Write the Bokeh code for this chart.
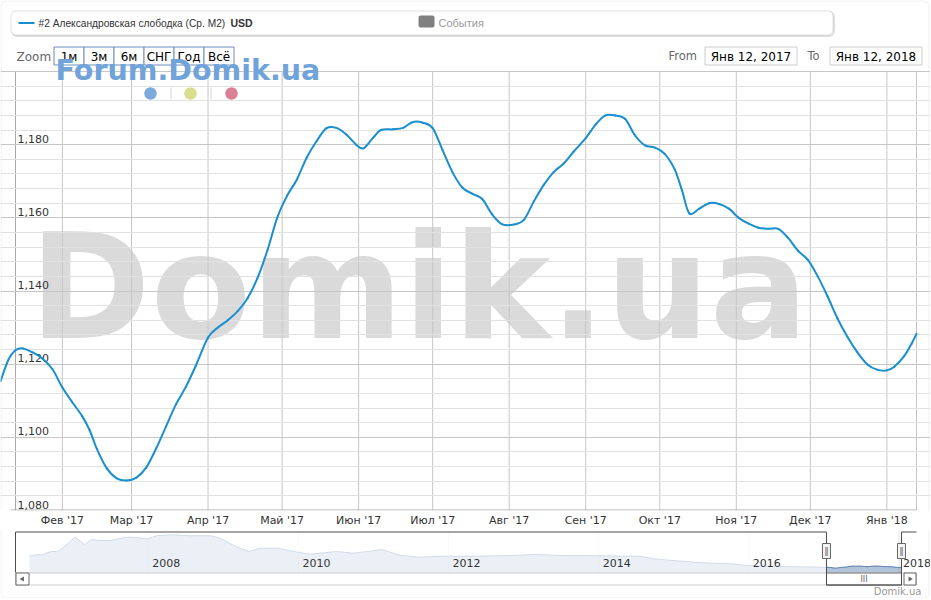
import numpy as np
import pandas as pd
from bokeh.plotting import figure
from bokeh.layouts import column
from bokeh.models import Range1d, FixedTicker, BoxAnnotation
from bokeh.core.properties import value
from bokeh.embed import file_html
from bokeh.resources import INLINE

# ---------------- data ----------------
SERIES_NAME = "#2 Александровская слободка (Ср. М2)"
SERIES_UNIT = "USD"
EVENTS_NAME = "События"
SITE = "Domik.ua"
FORUM = "Forum.Domik.ua"

dates = ["2017-01-07", "2017-01-10", "2017-01-13", "2017-01-16", "2017-01-20", "2017-01-24",
         "2017-01-28", "2017-02-01", "2017-02-05", "2017-02-09", "2017-02-12", "2017-02-15",
         "2017-02-19", "2017-02-23", "2017-02-27", "2017-03-03", "2017-03-07", "2017-03-11",
         "2017-03-15", "2017-03-19", "2017-03-23", "2017-03-27", "2017-04-01", "2017-04-05",
         "2017-04-09", "2017-04-13", "2017-04-17", "2017-04-21", "2017-04-25", "2017-04-29",
         "2017-05-03", "2017-05-07", "2017-05-11", "2017-05-15", "2017-05-19", "2017-05-23",
         "2017-05-27", "2017-05-31", "2017-06-03", "2017-06-07", "2017-06-10", "2017-06-15",
         "2017-06-19", "2017-06-23", "2017-06-27", "2017-07-01", "2017-07-05", "2017-07-09",
         "2017-07-13", "2017-07-17", "2017-07-21", "2017-07-25", "2017-07-29", "2017-08-03",
         "2017-08-07", "2017-08-11", "2017-08-15", "2017-08-19", "2017-08-23", "2017-08-27",
         "2017-09-01", "2017-09-05", "2017-09-09", "2017-09-13", "2017-09-17", "2017-09-21",
         "2017-09-25", "2017-09-29", "2017-10-03", "2017-10-07", "2017-10-10", "2017-10-13",
         "2017-10-17", "2017-10-21", "2017-10-25", "2017-10-29", "2017-11-02", "2017-11-06",
         "2017-11-10", "2017-11-14", "2017-11-18", "2017-11-22", "2017-11-26", "2017-11-30",
         "2017-12-04", "2017-12-08", "2017-12-12", "2017-12-16", "2017-12-20", "2017-12-24",
         "2017-12-28", "2018-01-01", "2018-01-04", "2018-01-08", "2018-01-11", "2018-01-13"]
prices = [1115.4, 1121.0, 1123.8, 1124.3, 1123.2, 1121.5,
          1118.6, 1113.6, 1109.6, 1105.8, 1102.0, 1096.8,
          1091.5, 1088.8, 1088.2, 1089.0, 1091.8, 1097.0,
          1103.0, 1109.0, 1113.8, 1119.5, 1127.3, 1130.0,
          1132.0, 1134.5, 1138.0, 1143.5, 1151.0, 1160.0,
          1166.0, 1170.5, 1176.5, 1181.0, 1184.5, 1184.6,
          1182.8, 1180.0, 1179.0, 1182.0, 1184.0, 1184.2,
          1184.6, 1186.2, 1186.0, 1184.5, 1178.5, 1172.5,
          1168.3, 1166.6, 1165.2, 1161.0, 1158.3, 1158.2,
          1159.5, 1164.5, 1169.0, 1172.5, 1174.8, 1178.0,
          1181.8, 1185.5, 1188.0, 1188.0, 1187.0, 1182.5,
          1179.8, 1179.2, 1177.5, 1173.3, 1167.5, 1161.2,
          1162.5, 1164.0, 1163.8, 1162.5, 1160.0, 1158.4,
          1157.3, 1157.0, 1157.0, 1154.5, 1151.0, 1148.5,
          1144.0, 1138.5, 1132.5, 1127.5, 1123.3, 1120.0,
          1118.5, 1118.3, 1119.3, 1122.2, 1125.6, 1128.3]

month_ticks = ["2017-02-01", "2017-03-01", "2017-04-01", "2017-05-01", "2017-06-01", "2017-07-01",
               "2017-08-01", "2017-09-01", "2017-10-01", "2017-11-01", "2017-12-01", "2018-01-01"]
month_labels = ["Фев '17", "Мар '17", "Апр '17", "Май '17", "Июн '17", "Июл '17",
                "Авг '17", "Сен '17", "Окт '17", "Ноя '17", "Дек '17", "Янв '18"]

y_ticks = [1080, 1100, 1120, 1140, 1160, 1180, 1200]
y_labels = ["1,080", "1,100", "1,120", "1,140", "1,160", "1,180"]
y_minor = [v for v in range(1080, 1201, 4) if v % 20]

view_from, view_to = "2017-01-13", "2018-01-13"
from_text, to_text = "Янв 12, 2017", "Янв 12, 2018"
zoom_buttons = ["1м", "3м", "6м", "СНГ", "Год", "Всё"]

hist_dates = ["2006-06-01", "2006-07-01", "2006-08-01", "2006-09-15", "2006-10-15", "2006-11-01",
              "2007-01-10", "2007-02-25", "2007-04-01", "2007-05-05", "2007-07-01", "2007-09-12",
              "2007-11-01", "2007-12-28", "2008-02-15", "2008-05-05", "2008-07-25", "2008-11-01",
              "2008-12-15", "2009-03-08", "2009-05-05", "2009-06-28", "2009-09-20", "2009-12-25",
              "2010-03-01", "2010-07-05", "2010-09-28", "2010-12-15", "2011-02-10", "2011-05-12",
              "2011-08-15", "2011-12-05", "2012-05-20", "2012-10-28", "2013-03-08", "2013-06-28",
              "2013-11-02", "2014-04-15", "2014-07-20", "2014-09-25", "2014-12-28", "2015-05-22",
              "2015-10-01", "2015-12-28", "2016-04-12", "2016-08-05", "2016-11-25"]
hist_values = [1680, 1750, 1750, 1915, 1915, 2015,
               2630, 2265, 2515, 2465, 2465, 2630,
               2615, 2550, 2715, 2750, 2700, 2700,
               2580, 2130, 1915, 2080, 2080, 1880,
               1780, 1915, 1830, 1930, 2015, 1715,
               1630, 1680, 1680, 1715, 1765, 1715,
               1715, 1680, 1680, 1550, 1465, 1350,
               1300, 1215, 1180, 1150, 1140]

nav_from, nav_to = "2006-03-26", "2018-03-27"
year_ticks = ["2008-01-01", "2010-01-01", "2012-01-01", "2014-01-01", "2016-01-01", "2018-01-01"]
year_labels = ["2008", "2010", "2012", "2014", "2016", "2018"]

# ---------------- styling ----------------
W = 930
LINE = "#1a8fcf"
GRID = "#c6c6c6"
MINOR = "#e2e2e2"
AXIS = "#a8a8a8"
BORDER = "#c8c8c8"
DJ = value("DejaVu Sans")
LB = value("Liberation Sans")
PX = dict(x_range_name="px", y_range_name="px")


def ms(d):
    return int(pd.Timestamp(d).value // 10**6)


common = dict(output_backend="svg", toolbar_location=None, outline_line_color=None,
              background_fill_color="white", border_fill_color="white")

# ---------------- main chart (frame also hosts the header) ----------------
x0, x1 = ms(view_from), ms(view_to)
per_px = (x1 - x0) / 901.0           # axis spans pixels 15..916
y_top = 1200 + 71 * 120 / 439.0      # 1080..1200 spans pixels 510..71
main = figure(width=W, height=530, x_axis_type="datetime", y_axis_location=None,
              x_range=Range1d(x0 - 15 * per_px, x1 + 14 * per_px),
              y_range=Range1d(1080, y_top),
              min_border_left=0, min_border_right=0, min_border_top=0, min_border_bottom=20,
              **common)
main.extra_x_ranges = {"px": Range1d(0, W)}
main.extra_y_ranges = {"px": Range1d(510, 0)}

tick_ms = [ms(t) for t in month_ticks]
ax = main.xaxis[0]
ax.ticker = FixedTicker(ticks=tick_ms)
ax.major_label_overrides = {t: l for t, l in zip(tick_ms, month_labels)}
ax.major_tick_out = 0
ax.major_tick_in = 0
ax.minor_tick_out = 0
ax.minor_tick_in = 0
ax.axis_line_color = None
ax.major_label_text_font = "DejaVu Sans"
ax.major_label_text_font_size = "11px"
ax.major_label_text_color = "#333333"
ax.major_label_standoff = 3

main.xgrid.visible = False
main.ygrid.ticker = FixedTicker(ticks=y_ticks, minor_ticks=y_minor)
main.ygrid.grid_line_color = GRID
main.ygrid.minor_grid_line_color = MINOR

# watermark beneath the grid
main.text(x=[29], y=[286], text=[SITE], level="image", text_font=DJ, text_font_style="bold",
          text_font_size="146px", text_color="#dadada", text_baseline="middle", **PX)

# trim horizontal grid to the plot area
main.quad(left=[0, 916], right=[10, W], top=[70, 70], bottom=[511, 511], fill_color="white",
          line_color=None, level="underlay", **PX)
# vertical grid lines and axis lines
main.segment(x0=tick_ms, x1=tick_ms, y0=[1080] * len(tick_ms), y1=[1200] * len(tick_ms),
             line_color=GRID, level="underlay")
main.segment(x0=[x1], x1=[x1], y0=[1080], y1=[1200], line_color=GRID, level="underlay")
main.segment(x0=[x0], x1=[x0], y0=[1080], y1=[1200], line_color=AXIS, level="underlay")
main.segment(x0=[10], x1=[916], y0=[509.5], y1=[509.5], line_color=AXIS, level="underlay", **PX)

main.text(x=[x0] * len(y_labels), y=y_ticks[:len(y_labels)], text=y_labels, x_offset=2,
          y_offset=-6, text_font=DJ, text_font_size="11px", text_color="#333333",
          text_baseline="middle")

# spline through the read points (drawn as cubic Bezier pieces, like a Highcharts spline)
px_ = np.array([ms(d) for d in dates], dtype=float)
py_ = np.array(prices, dtype=float)
pxe = np.concatenate([[px_[0]], px_, [px_[-1]]])
pye = np.concatenate([[py_[0]], py_, [py_[-1]]])
main.bezier(x0=px_[:-1], y0=py_[:-1], x1=px_[1:], y1=py_[1:],
            cx0=px_[:-1] + (pxe[2:-1] - pxe[:-3]) / 6.0,
            cy0=py_[:-1] + (pye[2:-1] - pye[:-3]) / 6.0,
            cx1=px_[1:] - (pxe[3:] - pxe[1:-2]) / 6.0,
            cy1=py_[1:] - (pye[3:] - pye[1:-2]) / 6.0,
            line_color=LINE, line_width=2, line_cap="round")

# ---- header: legend ----
main.add_layout(BoxAnnotation(left=11.5, right=833.5, top=11.5, bottom=35.5, fill_color=None,
                              line_color="black", line_alpha=0.12, line_width=2,
                              border_radius=5, level="underlay", **PX))
main.add_layout(BoxAnnotation(left=10.5, right=832.5, top=10.5, bottom=34.5, fill_color="white",
                              fill_alpha=1, line_color="#9a9a9a", line_width=1,
                              border_radius=5, level="underlay", **PX))
main.add_layout(BoxAnnotation(left=418, right=434, top=15, bottom=27, fill_color="#808080",
                              fill_alpha=1, line_color=None, border_radius=2,
                              level="underlay", **PX))
main.segment(x0=[18], x1=[34], y0=[22.5], y1=[22.5], line_color=LINE, line_width=2, **PX)
main.text(x=[38], y=[22.5], text=[SERIES_NAME], text_font=LB, text_font_size="10.2px",
          text_color="#333333", text_baseline="middle", **PX)
main.text(x=[230], y=[22.5], text=[SERIES_UNIT], text_font=LB, text_font_size="10.5px",
          text_font_style="bold", text_color="#333333", text_baseline="middle", **PX)
main.text(x=[438], y=[22.5], text=[EVENTS_NAME], text_font=LB, text_font_size="11px",
          text_color="#999999", text_baseline="middle", **PX)

# ---- header: range selector ----
main.text(x=[16], y=[56], text=["Zoom"], text_font=DJ, text_font_size="12px",
          text_color="#666666", text_baseline="middle", **PX)
bl = [53.5 + 30 * i for i in range(len(zoom_buttons))]
main.quad(left=bl, right=[b + 30 for b in bl], top=46.5, bottom=64.5,
          fill_color="white", line_color="#6f8fbb", line_width=1, **PX)
main.text(x=[b + 15 for b in bl], y=[56] * len(bl), text=zoom_buttons, text_font=DJ,
          text_font_size="12px", text_color="#000000", text_align="center",
          text_baseline="middle", **PX)
main.text(x=[668], y=[55.5], text=["From"], text_font=DJ, text_font_size="11.5px",
          text_color="#666666", text_baseline="middle", **PX)
main.text(x=[807], y=[55.5], text=["To"], text_font=DJ, text_font_size="11.5px",
          text_color="#666666", text_baseline="middle", **PX)
main.quad(left=[704.5, 829.5], right=[796.5, 921.5], top=46.5, bottom=64.5,
          fill_color="white", line_color="#cccccc", line_width=1, **PX)
main.text(x=[750.5, 875.5], y=[56, 56], text=[from_text, to_text], text_font=DJ,
          text_font_size="12px", text_color="#000000", text_align="center",
          text_baseline="middle", **PX)

# ---- forum watermark and carousel dots ----
main.text(x=[55], y=[70], text=[FORUM], text_font=DJ, text_font_size="28.5px",
          text_font_style="bold", text_color="#70a3d9", text_baseline="middle", **PX)
main.segment(x0=[170.5, 210.5], x1=[170.5, 210.5], y0=[87, 87], y1=[99, 99],
             line_color="#d6d6d6", **PX)
main.scatter(x=[150, 190, 231], y=[93, 93, 93], size=12.5,
             fill_color=["#7eaadb", "#d8de8c", "#dc8096"], line_color=None, **PX)

# outer chart border (upper part)
main.add_layout(BoxAnnotation(left=0.5, right=928.5, top=0.5, bottom=800, fill_color=None,
                              line_color=BORDER, line_width=1, border_radius=5,
                              level="overlay", **PX))

# ---------------- navigator + scrollbar ----------------
n0, n1 = ms(nav_from), ms(nav_to)
nper = (n1 - n0) / 901.0             # navigator axis spans pixels 15..916
NAV_FLOOR = 865
nav = figure(width=W, height=68, x_range=Range1d(n0 - 15 * nper, n1 + 14 * nper),
             y_range=Range1d(865 - 26 * 50, 865 + 42 * 50), x_axis_location=None,
             y_axis_location=None, min_border=0, **common)
nav.xgrid.visible = False
nav.ygrid.visible = False
nav.extra_x_ranges = {"px": Range1d(0, W)}
nav.extra_y_ranges = {"px": Range1d(598, 530)}

yr_ms = [ms(y) for y in year_ticks]
nav.segment(x0=yr_ms, x1=yr_ms, y0=[531] * len(yr_ms), y1=[572] * len(yr_ms),
            line_color="#e4e4e4", y_range_name="px")

nav_x = [ms(d) for d in hist_dates] + [ms(d) for d in dates]
nav_y = hist_values + prices
nav.varea(x=nav_x, y1=[NAV_FLOOR] * len(nav_x), y2=nav_y, fill_color="#4572a7", fill_alpha=0.42)
nav.line(x=nav_x, y=nav_y, line_color="#4572a7", line_width=1)

# mask outside the selected range
nav.quad(left=[n0, x1], right=[x0, n1], top=[531, 531], bottom=[572, 572],
         fill_color="white", fill_alpha=0.75, line_color=None, y_range_name="px")

nav.text(x=yr_ms, y=[562] * len(yr_ms), text=year_labels, x_offset=4, y_range_name="px",
         text_font=DJ, text_font_size="11px", text_color="#333333", text_baseline="middle")

# scrollbar
nav.quad(left=[15], right=[916], top=[572.5], bottom=[584.5], fill_color="white",
         line_color="#cfcfcf", **PX)
nav.quad(left=[15.5, 903.5], right=[28.5, 915.5], top=[572.5, 572.5], bottom=[584.5, 584.5],
         fill_color="white", line_color="#666666", **PX)
nav.scatter(x=[22, 909.5], y=[578.5, 578.5], marker="triangle", size=5,
            angle=[np.pi / 2, -np.pi / 2], fill_color="#666666", line_color=None, **PX)
nav.quad(left=[x0], right=[x1], top=[572.5], bottom=[584.5], fill_color="white",
         line_color="#666666", y_range_name="px")
nav.text(x=[(x0 + x1) / 2], y=[578.5], text=["III"], y_range_name="px", text_font=DJ,
         text_font_size="8px", text_color="#666666", text_align="center",
         text_baseline="middle")

# outline
nav.line(x=[n0, n0, x0, x0, x1, x1, n1], y=[572, 531.5, 531.5, 584.5, 584.5, 531.5, 531.5],
         line_color="#4d4d4d", line_width=1, y_range_name="px")

# handles
nav.rect(x=[x0, x1], y=[550.5, 550.5], width=8, height=15, width_units="screen",
         height_units="screen", fill_color="#f4f4f4", line_color="#666666", y_range_name="px")
nav.text(x=[x0, x1], y=[550.5, 550.5], text=["‖", "‖"], y_range_name="px", text_font=DJ,
         text_font_size="9px", text_color="#666666", text_align="center",
         text_baseline="middle")

nav.text(x=[921], y=[591], text=[SITE], text_font=DJ, text_font_size="10px",
         text_color="#999999", text_align="right", text_baseline="middle", **PX)

# outer chart border (lower part)
nav.add_layout(BoxAnnotation(left=0.5, right=928.5, top=-300, bottom=597.5, fill_color=None,
                             line_color=BORDER, line_width=1, border_radius=5,
                             level="overlay", **PX))

layout = column(main, nav, spacing=0)
with open("out.html", "w", encoding="utf-8") as f:
    f.write(file_html(layout, INLINE, title="Domik.ua"))
